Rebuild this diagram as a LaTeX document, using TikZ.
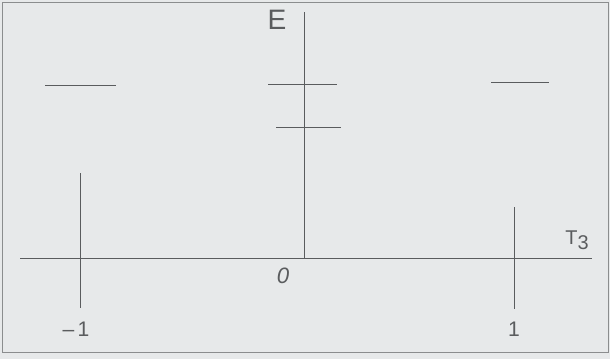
\documentclass[tikz,border=0pt]{standalone}
\usepackage{fontspec}
\setmainfont{Liberation Sans}
\usetikzlibrary{positioning,backgrounds}
\definecolor{PaperGray}{HTML}{E7E9EA}
\definecolor{InkGray}{HTML}{5A5C5E}

\begin{document}
\begin{tikzpicture}[
    x=0.03cm, y=-0.03cm,
    axisline/.style={
      line width=0.7pt,
      draw=InkGray
    },
    levelline/.style={
      line width=0.8pt,
      draw=InkGray
    },
    ticktext/.style={
      text=InkGray,
      font=\fontsize{19}{19}\selectfont\itshape,
      inner sep=1pt
    }]

    % Paper and frame
    \fill[PaperGray] (0,0) rectangle (610,359);
    \useasboundingbox (0,0) rectangle (610,359);
    \draw[InkGray!70,line width=0.6pt] (2,2) rectangle (608,352);

    % Axes
    \coordinate (xl) at (20,258);
    \coordinate (xr) at (592,258);
    \coordinate (origin) at (304,258);
    \coordinate (ytop) at (304,12);
    \draw[axisline] (xl) -- (xr);
    \draw[axisline] (origin) -- (ytop);

    % Axis labels
    \node[ticktext,font=\fontsize{24}{24}\selectfont] (elab) at (277,20) {E};
    \node[ticktext,font=\fontsize{17}{17}\selectfont] (tlab) at (577,240)
      {T\raisebox{-0.45ex}{3}};
    \node[ticktext] (zero) at (283,276) {0};

    % Tick lines at -1 and 1
    \coordinate (mtop) at (80,173);
    \coordinate (mbot) at (80,308);
    \coordinate (ptop) at (514,207);
    \coordinate (pbot) at (514,309);
    \draw[axisline] (mtop) -- (mbot);
    \draw[axisline] (ptop) -- (pbot);
    \node[ticktext,font=\fontsize{18}{18}\selectfont] (mone) at (76,329) {--\,1};
    \node[ticktext,font=\fontsize{18}{18}\selectfont] (pone) at (514,329) {1};

    % Energy levels
    \coordinate (l1a) at (45,85);
    \coordinate (l1b) at (116,85);
    \coordinate (c1a) at (268,84);
    \coordinate (c1b) at (337,84);
    \coordinate (c2a) at (276,127);
    \coordinate (c2b) at (341,127);
    \coordinate (r1a) at (491,82);
    \coordinate (r1b) at (549,82);
    \draw[levelline] (l1a) -- (l1b);
    \draw[levelline] (c1a) -- (c1b);
    \draw[levelline] (c2a) -- (c2b);
    \draw[levelline] (r1a) -- (r1b);
  \end{tikzpicture}
\end{document}
